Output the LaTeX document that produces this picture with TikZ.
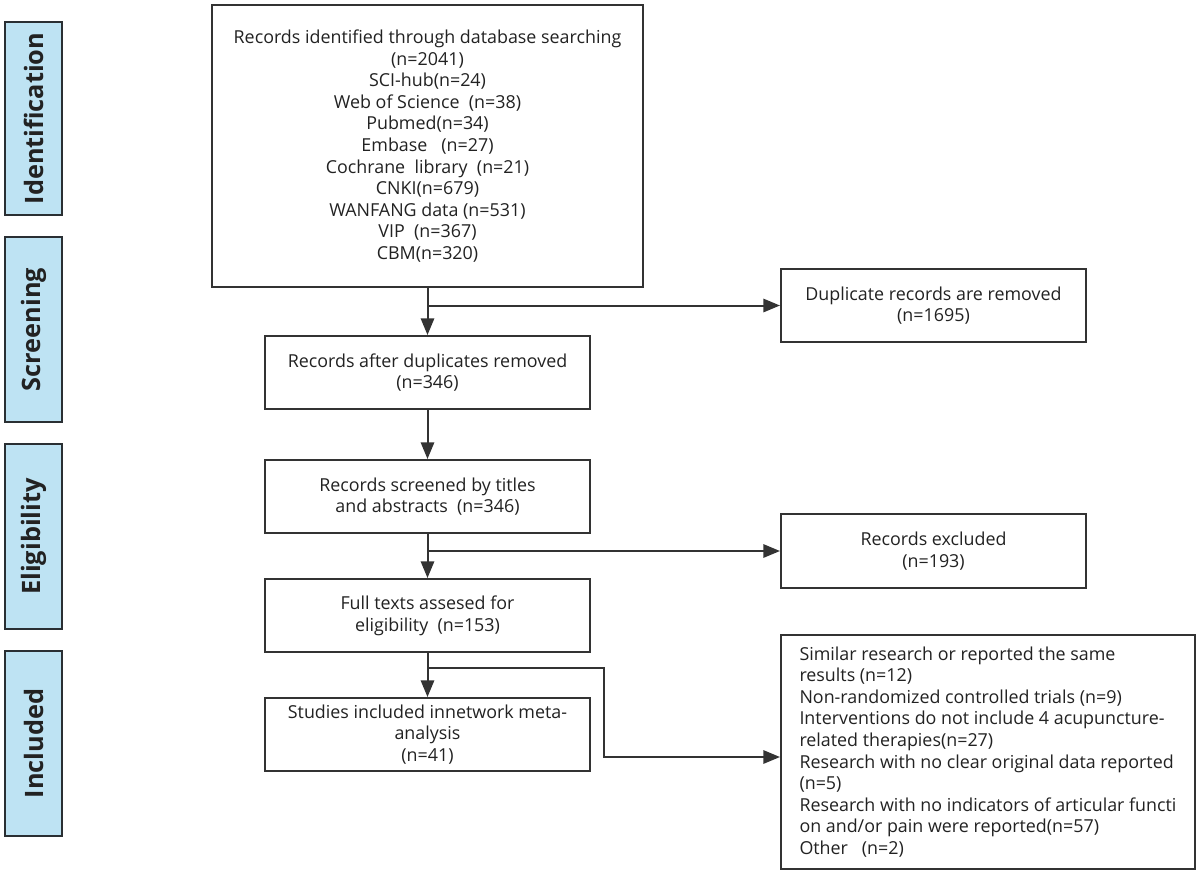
\documentclass[tikz,border=0pt]{standalone}
\usepackage{fontspec}
\setmainfont{Open Sans}
\usetikzlibrary{arrows.meta}
\definecolor{ln}{HTML}{333333}
\definecolor{tx}{HTML}{222222}
\definecolor{sidefill}{HTML}{BEE3F3}
\definecolor{sideln}{HTML}{2A2F33}
\begin{document}
\begin{tikzpicture}[x=0.75pt,y=-0.75pt,
  wh/.style 2 args={minimum width=#1*0.75pt, minimum height=#2*0.75pt},
  box/.style={draw=ln, line width=1.5pt, fill=white, align=center, text=tx, inner sep=0pt,
    font=\fontsize{13.4pt}{16.2pt}\selectfont},
  listbox/.style={box, align=left},
  sidebox/.style={draw=sideln, line width=1.5pt, fill=sidefill, rotate=90, text=tx, inner sep=0pt,
    font=\fontsize{19pt}{22pt}\selectfont\bfseries},
  arr/.style={draw=ln, line width=1.5pt, -{Triangle[length=12.5pt,width=10pt]}}
]
\useasboundingbox (0,0) rectangle (1200,883);

% phase labels
\node[sidebox, wh={193}{57}] (ident) at (33.5,118.5) {Identification};
\node[sidebox, wh={185}{57}] (scr) at (33.5,329.5) {Screening};
\node[sidebox, wh={185}{57}] (elig) at (33.5,536.5) {Eligibility};
\node[sidebox, wh={185}{57}] (incl) at (33.5,743.5) {Included};

% main boxes
\node[box, wh={431}{282}] (top) at (427.5,146) {Records identified through database searching\\(n=2041)\\SCI-hub(n=24)\\Web of Science\ \ (n=38)\\Pubmed(n=34)\\Embase\ \ \ (n=27)\\Cochrane\ \ library\ \ (n=21)\\CNKI(n=679)\\WANFANG data (n=531)\\VIP\ \ (n=367)\\CBM(n=320)};
\node[box, wh={305}{73}] (dup) at (933.5,305.5) {Duplicate records are removed\\(n=1695)};
\node[box, wh={325}{73}] (after) at (427.5,372.5) {Records after duplicates removed\\(n=346)};
\node[box, wh={325}{73}] (screen) at (427.5,496.5) {Records screened by titles\\and abstracts\ \ (n=346)};
\node[box, wh={305}{74}] (excl) at (933.5,551) {Records excluded\\(n=193)};
\node[box, wh={325}{73}] (full) at (427.5,615.5) {Full texts assesed for\\eligibility\ \ (n=153)};
\node[box, wh={325}{73}] (stud) at (427.5,734.5) {Studies included innetwork meta-\\analysis\\(n=41)};
\node[listbox, wh={414}{234}] (list) at (988,752) {Similar research or reported the same\\results (n=12)\\Non-randomized controlled trials (n=9)\\Interventions do not include 4 acupuncture-\\related therapies(n=27)\\Research with no clear original data reported\\(n=5)\\Research with no indicators of articular functi\\on and/or pain were reported(n=57)\\Other\ \ \ (n=2)};

% connectors
\draw[arr] (top.south) -- (after.north);
\draw[arr] (top.south |- dup.west) -- (dup.west);
\draw[arr] (after.south) -- (screen.north);
\draw[arr] (screen.south |- excl.west) -- (excl.west);
\draw[arr] (screen.south) -- (full.north);
\draw[arr] (full.south) -- (stud.north);
\coordinate (elb) at (604,668);
\draw[arr] (full.south |- elb) -- (elb) |- ([yshift=-3.75pt]list.west);
\end{tikzpicture}
\end{document}
